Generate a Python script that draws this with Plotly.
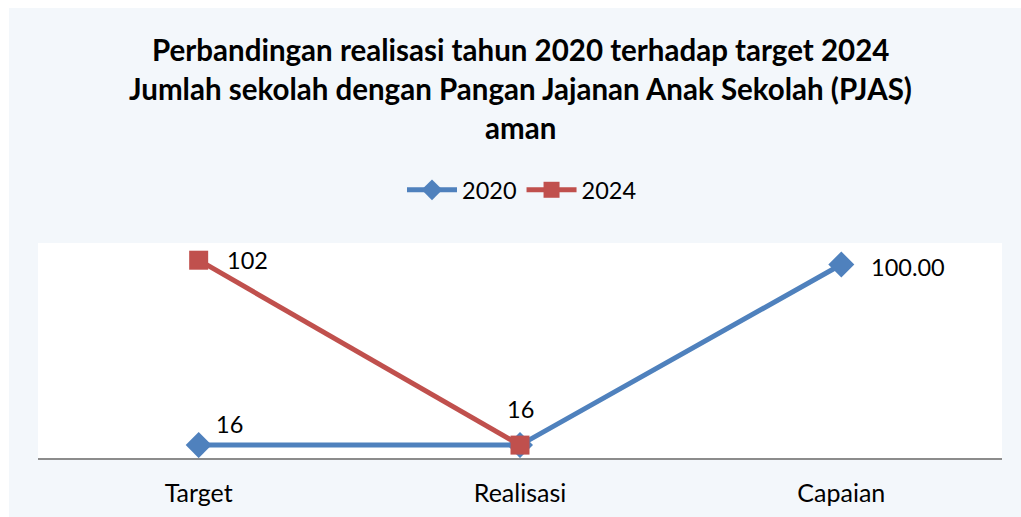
import plotly.graph_objects as go

# Data
categories = ["Target", "Realisasi", "Capaian"]
values_2020 = [16, 16, 100.00]
values_2024 = [102, 16, None]
label_fmt_2020 = ["{:.0f}", None, "{:.2f}"]
label_fmt_2024 = ["{:.0f}", "{:.0f}", None]

title_lines = [
    "Perbandingan realisasi tahun 2020 terhadap target 2024",
    "Jumlah sekolah dengan Pangan Jajanan Anak Sekolah (PJAS)",
    "aman",
]

BLUE = "#4F81BD"
RED = "#C0504D"
BG = "#F3F7FB"
FONT = "Lato, 'Open Sans', sans-serif"

fig = go.Figure()
fig.add_trace(go.Scatter(
    x=categories, y=values_2020, name="2020", mode="lines+markers",
    line=dict(color=BLUE, width=5),
    marker=dict(symbol="diamond", size=20, color=BLUE),
))
fig.add_trace(go.Scatter(
    x=categories, y=values_2024, name="2024", mode="lines+markers",
    line=dict(color=RED, width=5),
    marker=dict(symbol="square", size=19, color=RED),
))

# Data labels (offsets in pixels from each point)
label_pos_2020 = [(15, 21, "left"), None, (28, -2, "left")]
label_pos_2024 = [(26, 0, "left"), (0, 36, "center"), None]
for vals, fmts, poss in ((values_2020, label_fmt_2020, label_pos_2020),
                         (values_2024, label_fmt_2024, label_pos_2024)):
    for cat, v, f, p in zip(categories, vals, fmts, poss):
        if v is None or f is None or p is None:
            continue
        dx, dy, anchor = p
        fig.add_annotation(
            x=cat, y=v, xref="x", yref="y", text=f.format(v),
            showarrow=False, xanchor=anchor, yanchor="middle",
            xshift=dx, yshift=dy,
            font=dict(family=FONT, size=23.5, color="#000000"),
        )

W, H = 1021, 517
L, R, T, B = 38, 19, 243, 59
pw, ph = W - L - R, H - T - B


def px_to_paper_y(py):
    return (H - B - py) / ph


# Title lines
for line, ypx in zip(title_lines, [50, 88, 128]):
    fig.add_annotation(
        x=0.5 + (520 - (L + pw / 2)) / pw, xref="paper",
        y=px_to_paper_y(ypx), yref="paper",
        text="<b>" + line + "</b>", showarrow=False,
        xanchor="center", yanchor="middle",
        font=dict(family=FONT, size=29.5, color="#000000"),
    )

# White frame around the light chart background
fig.add_shape(type="rect", xref="paper", yref="paper",
              x0=-L / pw, x1=(9 - L) / pw, y0=-B / ph, y1=(H - B) / ph,
              fillcolor="white", line_width=0, layer="below")
fig.add_shape(type="rect", xref="paper", yref="paper",
              x0=-L / pw, x1=(W - L) / pw, y0=px_to_paper_y(8), y1=(H - B) / ph,
              fillcolor="white", line_width=0, layer="below")

fig.update_layout(
    width=W, height=H,
    margin=dict(l=L, r=R, t=T, b=B, autoexpand=False),
    paper_bgcolor=BG, plot_bgcolor="white",
    font=dict(family=FONT, size=24, color="#000000"),
    showlegend=True,
    legend=dict(orientation="h", x=(522 - L) / pw, xanchor="center",
                y=px_to_paper_y(190), yanchor="middle",
                font=dict(size=23.5), bgcolor="rgba(0,0,0,0)",
                itemwidth=50),
    xaxis=dict(range=[-0.5, 2.5], showgrid=False, zeroline=False,
               showline=True, linecolor="#8C8C8C", linewidth=2,
               ticks="", ticklabelstandoff=12, automargin=False,
               tickfont=dict(size=25)),
    yaxis=dict(range=[10, 110], showgrid=False, zeroline=False,
               showticklabels=False, showline=False, ticks="",
               automargin=False),
)

fig.write_html("out.html")
